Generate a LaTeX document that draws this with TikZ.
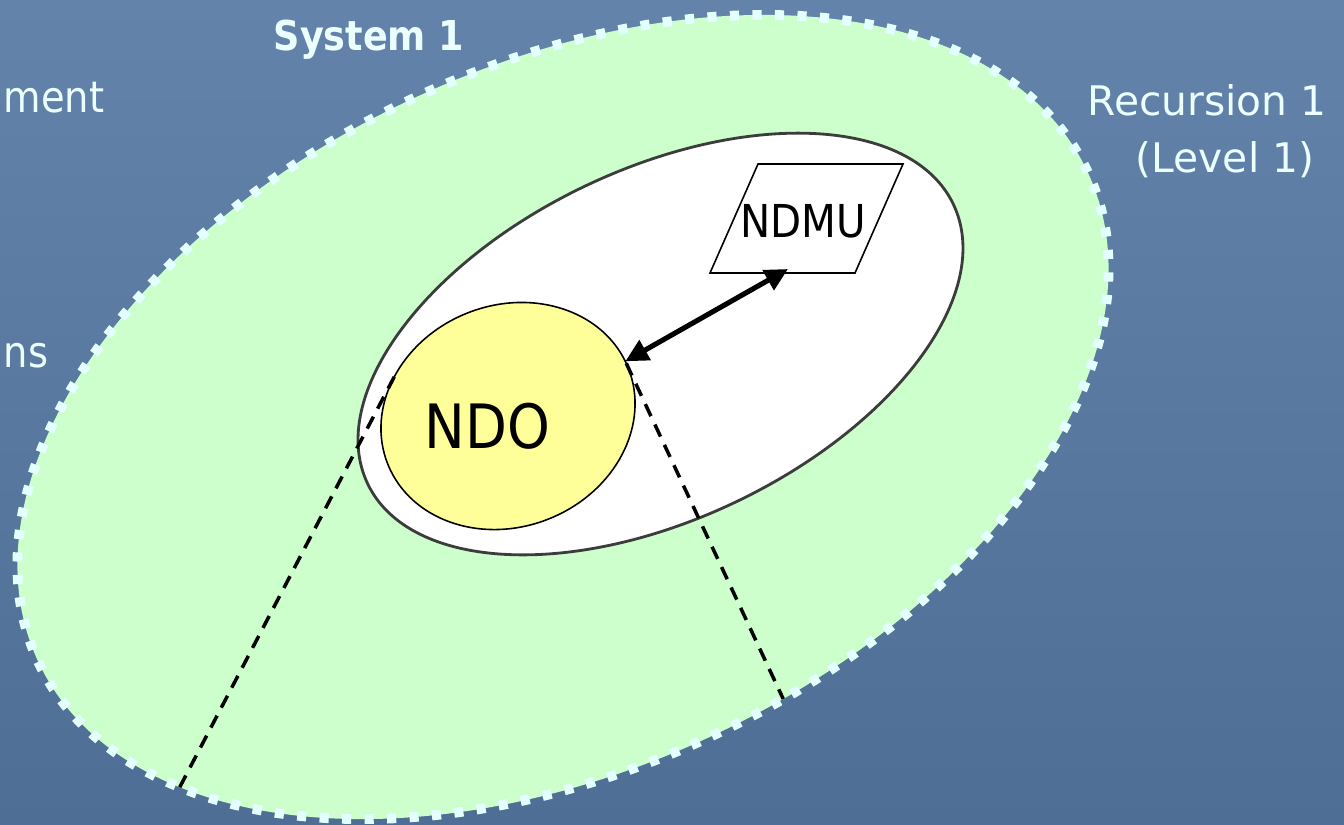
\documentclass[tikz,border=0pt]{standalone}
\usepackage{fontspec}
\setmainfont{DejaVu Sans}
\newfontfamily\narrowfont[FakeStretch=0.89]{DejaVu Sans}
\usetikzlibrary{shapes.geometric,arrows.meta}
\definecolor{bgtop}{RGB}{99,131,170}
\definecolor{bgbot}{RGB}{78,110,149}
\definecolor{mint}{RGB}{204,255,204}
\definecolor{dotcol}{RGB}{228,255,255}
\definecolor{paleyel}{RGB}{255,255,153}
\definecolor{lighttext}{RGB}{235,255,255}
\definecolor{rimgray}{RGB}{60,60,60}
\tikzset{
  ellbase/.style={ellipse, inner sep=0pt, outer sep=0pt},
  sysell/.style={ellbase, fill=mint, draw=dotcol, line width=2.8pt, dash pattern=on 2.6pt off 3.8pt},
  recell/.style={ellbase, fill=white, draw=rimgray, line width=0.8pt},
  ndoell/.style={ellbase, fill=paleyel, draw=black, line width=0.45pt},
  conel/.style={draw=black, line width=1.0pt, dash pattern=on 3.8pt off 2.6pt},
  slidetext/.style={text=lighttext, inner sep=0pt, anchor=base},
  boxtext/.style={text=black, inner sep=0pt, anchor=base},
  unitbox/.style={draw=black, line width=0.45pt},
  link/.style={line width=1.45pt, {Triangle[length=6.5pt,width=6.3pt]}-{Triangle[length=6.5pt,width=6.3pt]}},
}
\begin{document}
\begin{tikzpicture}
\useasboundingbox (0,0) rectangle (13.44,-8.25);
\fill[top color=bgtop, bottom color=bgbot] (0,0) rectangle (13.44,-8.25);

% ellipses
\node[sysell, minimum width=11.58cm, minimum height=7.04cm, rotate=25] (sys) at (5.63,-4.17) {};
\node[recell, minimum width=6.49cm, minimum height=3.50cm, rotate=25.5] (rec) at (6.605,-3.44) {};
\node[ndoell, minimum width=2.59cm, minimum height=2.214cm, rotate=22] (ndo) at (5.08,-4.16) {};

% NDMU parallelogram
\coordinate (pTL) at (7.58,-1.64);
\coordinate (pTR) at (9.03,-1.64);
\coordinate (pBR) at (8.55,-2.73);
\coordinate (pBL) at (7.10,-2.73);
\draw[unitbox] (pTL) -- (pTR) -- (pBR) -- (pBL) -- cycle;
\node[boxtext, font=\narrowfont\fontsize{12.9pt}{15pt}\selectfont] (ndmu) at (8.03,-2.37) {NDMU};
\node[boxtext, font=\narrowfont\fontsize{17.4pt}{20pt}\selectfont] (ndotext) at (4.875,-4.48) {NDO};

% cone lines
\draw[conel] (ndo.139) -- (sys.199);
\draw[conel] (ndo.2) -- (sys.283);

% arrow
\coordinate (ndmutip) at (7.88,-2.69);
\draw[link] (ndo.3) -- (ndmutip);

% slide texts
\node[slidetext, font=\narrowfont\bfseries\fontsize{11.7pt}{14pt}\selectfont] (sys1) at (3.69,-0.50) {System 1};
\node[slidetext, anchor=base west, font=\narrowfont\fontsize{12.3pt}{15pt}\selectfont] (ment) at (0.03,-1.12) {ment};
\node[slidetext, anchor=base west, font=\narrowfont\fontsize{12.3pt}{15pt}\selectfont] (ns) at (0.03,-3.67) {ns};
\node[slidetext, font=\fontsize{11.6pt}{14pt}\selectfont] (rec1) at (12.07,-1.15) {Recursion 1};
\node[slidetext, font=\fontsize{11.6pt}{14pt}\selectfont] (lev1) at (12.25,-1.72) {(Level 1)};
\end{tikzpicture}
\end{document}
